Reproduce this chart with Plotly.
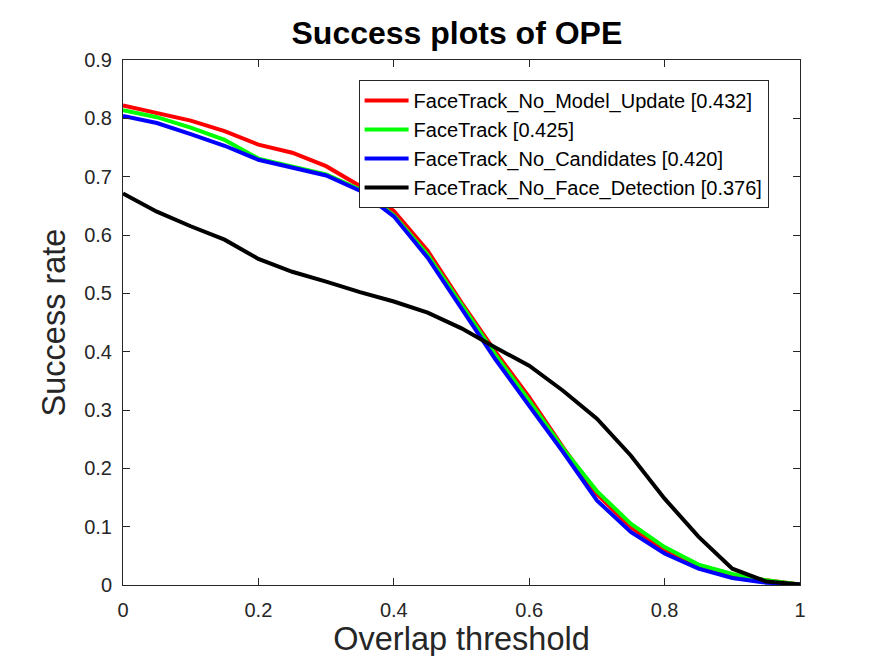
import plotly.graph_objects as go

# overlap thresholds (0 to 1, step 0.05)
thresholds = [0.0, 0.05, 0.1, 0.15, 0.2, 0.25, 0.3, 0.35, 0.4, 0.45, 0.5,
              0.55, 0.6, 0.65, 0.7, 0.75, 0.8, 0.85, 0.9, 0.95, 1.0]

no_model_update = [0.822, 0.809, 0.796, 0.778, 0.755, 0.741, 0.718, 0.684, 0.641, 0.573, 0.484,
                   0.400, 0.322, 0.236, 0.156, 0.099, 0.059, 0.032, 0.017, 0.008, 0.001]
facetrack = [0.814, 0.802, 0.784, 0.763, 0.731, 0.718, 0.704, 0.678, 0.634, 0.566, 0.480,
             0.395, 0.316, 0.234, 0.161, 0.105, 0.065, 0.035, 0.019, 0.008, 0.001]
no_candidates = [0.804, 0.792, 0.773, 0.753, 0.729, 0.716, 0.702, 0.676, 0.632, 0.561, 0.473,
                 0.387, 0.307, 0.228, 0.145, 0.091, 0.054, 0.028, 0.012, 0.004, 0.001]
no_face_detection = [0.671, 0.640, 0.615, 0.592, 0.559, 0.537, 0.520, 0.502, 0.486, 0.467, 0.440,
                     0.407, 0.376, 0.333, 0.285, 0.222, 0.148, 0.083, 0.028, 0.006, 0.001]

names = ["FaceTrack_No_Model_Update [0.432]", "FaceTrack [0.425]",
         "FaceTrack_No_Candidates [0.420]", "FaceTrack_No_Face_Detection [0.376]"]
colors = ["#ff0000", "#00ff00", "#0000ff", "#000000"]
series = [no_model_update, facetrack, no_candidates, no_face_detection]

xticks = [0, 0.2, 0.4, 0.6, 0.8, 1]
yticks = [0, 0.1, 0.2, 0.3, 0.4, 0.5, 0.6, 0.7, 0.8, 0.9]

fig = go.Figure()
for name, col, vals in zip(names, colors, series):
    fig.add_trace(go.Scatter(x=thresholds, y=vals, mode="lines", name=name,
                             line=dict(color=col, width=4)))

axis_common = dict(showline=True, linecolor="#262626", linewidth=1, mirror="ticks",
                   ticks="inside", ticklen=7, tickcolor="#262626", showgrid=False,
                   zeroline=False, tickfont=dict(size=20, color="#262626"))

fig.update_xaxes(range=[0, 1], tickvals=xticks, ticktext=[f"{t:g}" for t in xticks],
                 ticklabelstandoff=7,
                 title=dict(text="Overlap threshold", font=dict(size=32.5, color="#262626"), standoff=4),
                 **axis_common)
fig.update_yaxes(range=[0, 0.9], tickvals=yticks, ticktext=[f"{t:g}" for t in yticks],
                 ticklabelstandoff=6,
                 title=dict(text="Success rate", font=dict(size=32.5, color="#262626"), standoff=8),
                 **axis_common)

fig.update_layout(
    width=875, height=656,
    font=dict(family="Liberation Sans, Arial, sans-serif"),
    title=dict(text="<b>Success plots of OPE</b>", x=0.513, xanchor="center",
               y=0.962, yanchor="middle", font=dict(size=32, color="#000000")),
    plot_bgcolor="white", paper_bgcolor="white",
    margin=dict(l=115, r=83, t=52, b=79),
    legend=dict(x=0.348, y=0.962, xanchor="left", yanchor="top",
                bgcolor="white", bordercolor="#262626", borderwidth=1,
                font=dict(size=20, color="#000000"), tracegroupgap=0,
                itemwidth=44),
)

fig.write_html("out.html")
